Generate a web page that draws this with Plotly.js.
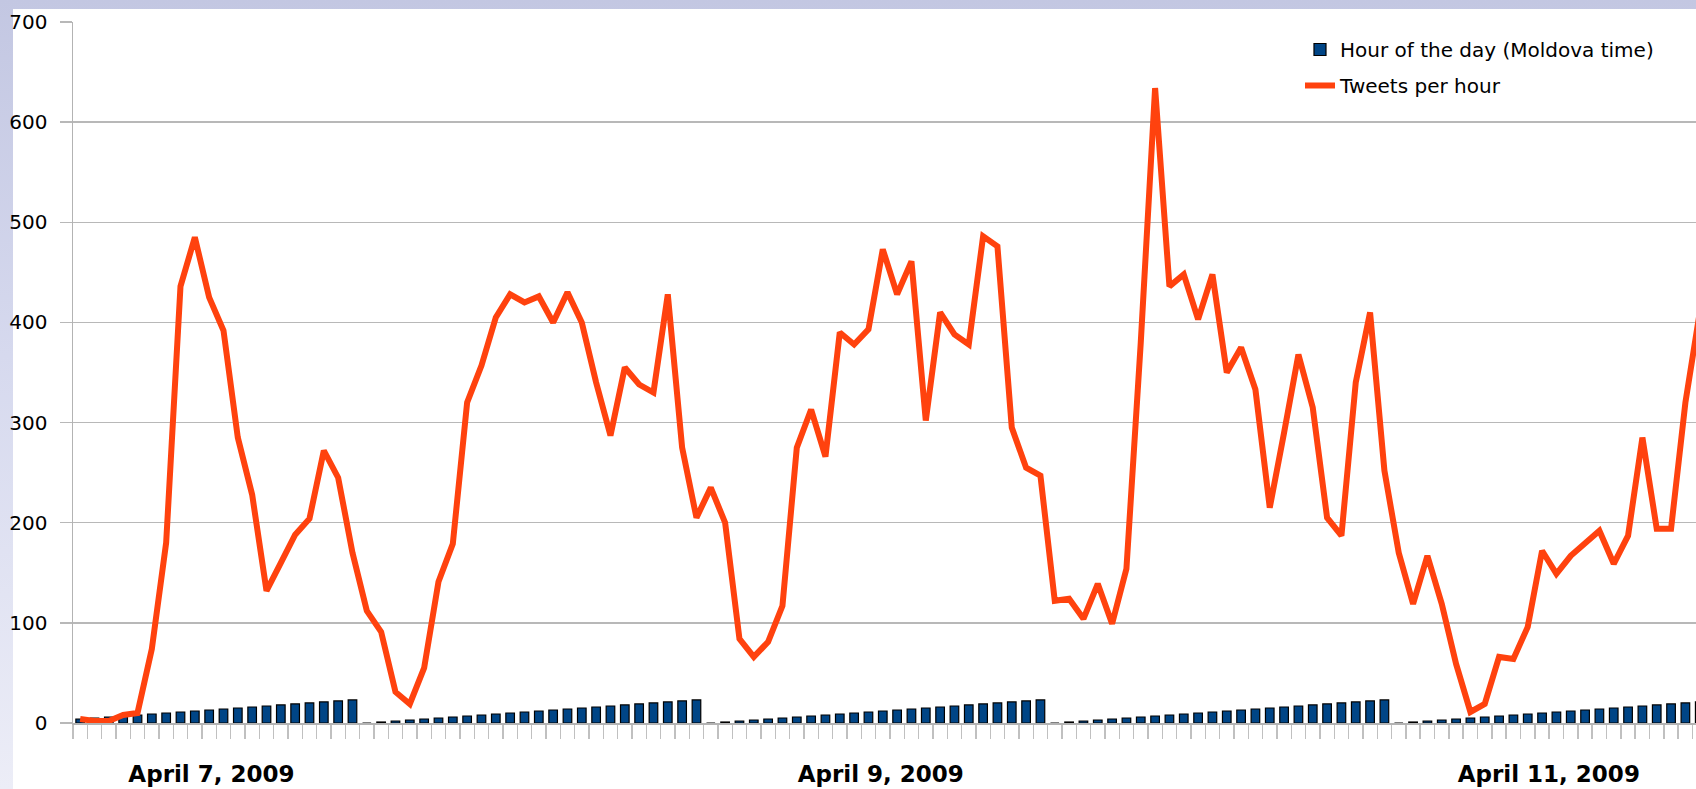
<!DOCTYPE html>
<html>
<head>
<meta charset="utf-8">
<script src="https://cdn.plot.ly/plotly-3.0.1.min.js"></script>
<style>
  html, body { margin: 0; padding: 0; }
  #wrap {
    position: relative; width: 1696px; height: 789px;
    background:
      linear-gradient(#ffffff, #ffffff) 13px 9px / 1683px 780px no-repeat,
      linear-gradient(to bottom, #c3c7e2 0%, #d6d9ee 45%, #ecedf7 100%);
  }
  #chart { position: absolute; left: 0; top: 0; width: 1696px; height: 789px; }
</style>
</head>
<body>
<div id="wrap"><div id="chart"></div></div>
<script>
// Hourly categories (index 0 = April 7, 2009, 04:00 Moldova time)
const hourOfDay = [
  4,5,6,7,8,9,10,11,12,13,14,15,16,17,18,19,20,21,22,23,
  0,1,2,3,4,5,6,7,8,9,10,11,12,13,14,15,16,17,18,19,20,21,22,23,
  0,1,2,3,4,5,6,7,8,9,10,11,12,13,14,15,16,17,18,19,20,21,22,23,
  0,1,2,3,4,5,6,7,8,9,10,11,12,13,14,15,16,17,18,19,20,21,22,23,
  0,1,2,3,4,5,6,7,8,9,10,11,12,13,14,15,16,17,18,19,20,21
];
const tweetsPerHour = [
  4,2,2,8,10,74,180,436,485,425,392,285,228,132,160,188,204,272,245,170,
  112,91,31,19,55,141,179,320,357,405,428,420,426,400,430,400,340,287,355,338,330,428,275,205,
  235,200,84,66,81,117,275,313,266,390,378,393,473,428,461,302,410,388,378,486,476,295,255,247,
  122,124,104,139,99,154,380,634,436,448,403,448,350,375,333,215,290,368,315,205,187,340,410,252,
  170,119,167,119,59,11,19,66,64,96,172,149,167,179,192,159,187,285,194,194,320,410
];
const categoryIndex = hourOfDay.map((_, i) => i);
const dateLabels = ["April 7, 2009", "April 9, 2009", "April 11, 2009"];
const seriesNames = ["Hour of the day (Moldova time)", "Tweets per hour"];

const labelPositions = [9.16, 55.86, 102.47];

const traces = [
  {
    type: 'bar', name: seriesNames[0], x: categoryIndex, y: hourOfDay,
    width: 0.6, legendgroup: 'a',
    marker: { color: '#004586', line: { color: '#000000', width: 1.2 } }
  },
  {
    type: 'scatter', mode: 'lines', name: seriesNames[1], x: categoryIndex, y: tweetsPerHour,
    legendgroup: 'b',
    line: { color: '#ff420e', width: 6 }
  }
];

const layout = {
  width: 1696, height: 789,
  margin: { l: 73, r: 0, t: 22, b: 66, pad: 0, autoexpand: false },
  paper_bgcolor: 'rgba(0,0,0,0)', plot_bgcolor: 'rgba(0,0,0,0)',
  font: { family: 'DejaVu Sans', size: 20, color: '#000' },
  showlegend: true,
  legend: {
    x: 0.756, y: 0.9886,
    xanchor: 'left', yanchor: 'top', traceorder: 'grouped', tracegroupgap: 7,
    bgcolor: 'rgba(0,0,0,0)', font: { family: 'DejaVu Sans', size: 20, color: '#000' }
  },
  bargap: 0,
  xaxis: {
    type: 'linear', range: [-0.5, 112.74], fixedrange: true,
    tickmode: 'array', tickvals: labelPositions, ticktext: dateLabels,
    ticks: '', showgrid: false, zeroline: false,
    showline: true, linecolor: '#b3b3b3', linewidth: 1.5,
    tickfont: { family: 'DejaVu Sans', size: 23, weight: 'bold', color: '#000' },
    ticklabelstandoff: 30,
    minor: { tick0: -0.5, dtick: 1, ticks: 'outside', ticklen: 14, tickwidth: 1.5, tickcolor: '#c0c0c0', showgrid: false }
  },
  yaxis: {
    range: [0, 700], dtick: 100, fixedrange: true,
    showgrid: true, gridcolor: '#b8b8b8', gridwidth: 1.5,
    zeroline: false, showline: true, linecolor: '#b3b3b3', linewidth: 1.5,
    ticks: 'outside', ticklen: 12, tickwidth: 1.5, tickcolor: '#b8b8b8',
    tickfont: { family: 'DejaVu Sans', size: 20, color: '#000' },
    ticklabelstandoff: 8
  }
};

Plotly.newPlot('chart', traces, layout, { staticPlot: true, displayModeBar: false });
</script>
</body>
</html>
